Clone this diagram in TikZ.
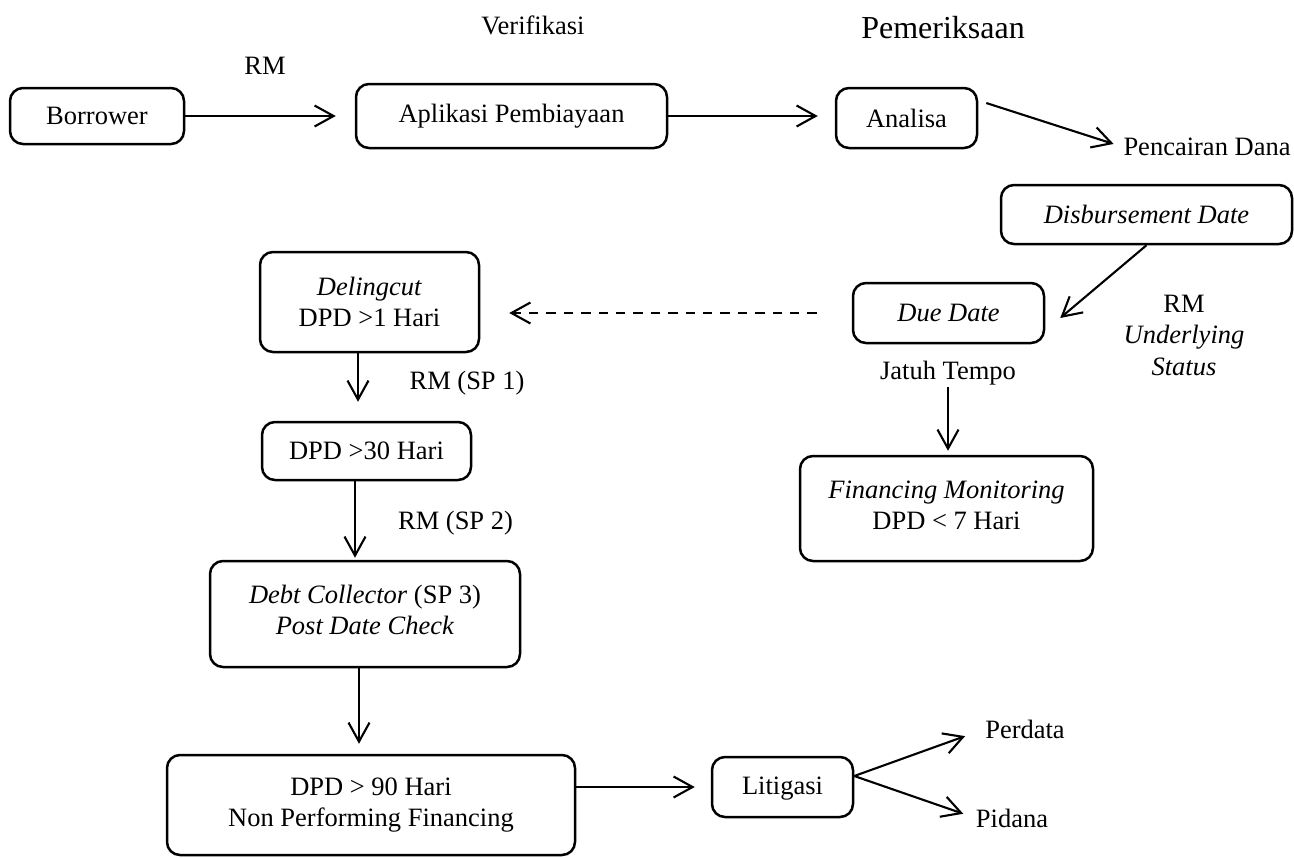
\documentclass[tikz,border=0pt]{standalone}
\usepackage{fontspec}
\setmainfont{Liberation Serif}
\usetikzlibrary{arrows.meta}
\begin{document}
\begin{tikzpicture}[x=0.5pt,y=-0.5pt,
  font=\fontsize{13.25}{15.5}\selectfont,
  box/.style={draw, line width=1.25pt, rounded corners=6.5pt, align=center, inner sep=0pt},
  lbl/.style={inner sep=0pt, align=center},
  conn/.style={line width=1.05pt, -{Straight Barb[length=9.5pt,width=10.5pt]}},
  dashconn/.style={conn, dash pattern=on 4.7pt off 4pt}
]
\useasboundingbox (0,0) rectangle (1294,857);

% boxes
\node[box, minimum width=87pt, minimum height=28pt] (borrower) at (97,116) {Borrower};
\node[box, minimum width=155.5pt, minimum height=32pt] (aplikasi) at (511.5,116) {Aplikasi Pembiayaan};
\node[box, minimum width=70.5pt, minimum height=30pt] (analisa) at (906.5,118) {Analisa};
\node[box, minimum width=145.5pt, minimum height=29.5pt] (disb) at (1146.5,214.5) {\textit{Disbursement Date}};
\node[box, minimum width=95.5pt, minimum height=30pt] (due) at (948.5,313) {\textit{Due Date}};
\node[box, minimum width=109.5pt, minimum height=50pt] (delingcut) at (369.5,302) {\textit{Delingcut}\\DPD >1 Hari};
\node[box, minimum width=104.5pt, minimum height=29pt] (dpd30) at (366.5,451) {DPD >30 Hari};
\node[box, minimum width=155pt, minimum height=53pt, text depth=4.5pt] (debt) at (365,614) {\textit{Debt Collector} (SP 3)\\\textit{Post Date Check}};
\node[box, minimum width=146.5pt, minimum height=52.5pt, text depth=3pt] (finmon) at (946.5,508.5) {\textit{Financing Monitoring}\\DPD < 7 Hari};
\node[box, minimum width=204pt, minimum height=50pt] (dpd90) at (371,805) {DPD > 90 Hari\\Non Performing Financing};
\node[box, minimum width=70.5pt, minimum height=30pt, text depth=1.5pt] (litigasi) at (782.5,787) {Litigasi};

% labels
\node[lbl] (verif) at (533,25) {Verifikasi};
\node[lbl, font=\fontsize{16}{18}\selectfont] (pemer) at (943,28) {Pemeriksaan};
\node[lbl] (rm1) at (265,66) {RM};
\node[lbl] (pencairan) at (1207,147) {Pencairan Dana};
\node[lbl] (rm2) at (1184,304) {RM};
\node[lbl] (under) at (1184,337) {\textit{Underlying}};
\node[lbl] (status) at (1184,367) {\textit{Status}};
\node[lbl] (jatuh) at (948,373) {Jatuh Tempo};
\node[lbl] (rmsp1) at (467,383) {RM (SP 1)};
\node[lbl] (rmsp2) at (455.5,523) {RM (SP 2)};
\node[lbl] (perdata) at (1025,729) {Perdata};
\node[lbl] (pidana) at (1012,818) {Pidana};

% connectors
\draw[conn, shorten >=9.5pt] (borrower.east) -- (borrower.east -| aplikasi.west);
\draw[conn, shorten >=8.5pt] (aplikasi.east) -- (aplikasi.east -| analisa.west);
\draw[conn, shorten >=5pt] ([xshift=4pt,yshift=7.5pt]analisa.east) -- (pencairan.west);
\draw[conn] (disb.south) -- ([xshift=7.5pt,yshift=-2.5pt]due.east);
\draw[dashconn, shorten <=17.5pt, shorten >=14.5pt] (due.west) -- (due.west -| delingcut.east);
\draw[conn, shorten >=9.5pt] ([xshift=-5.75pt]delingcut.south) -- ([xshift=-5.75pt]delingcut.south |- dpd30.north);
\draw[conn, shorten >=1pt] ([xshift=-5.75pt]dpd30.south) -- ([xshift=-5.75pt]dpd30.south |- debt.north);
\draw[conn, shorten >=5pt] ([xshift=-3pt]debt.south) -- ([xshift=-3pt]debt.south |- dpd90.north);
\draw[conn, shorten >=8pt] (dpd90.east |- litigasi.west) -- (litigasi.west);
\draw[conn, shorten <=1pt, shorten >=2pt] (jatuh.south) -- (jatuh.south |- finmon.north);
\draw[conn, shorten >=10.5pt] ([yshift=5.5pt]litigasi.east) -- (perdata.west);
\draw[conn, shorten >=6.5pt] ([yshift=5.5pt]litigasi.east) -- (pidana.west);
\end{tikzpicture}
\end{document}
